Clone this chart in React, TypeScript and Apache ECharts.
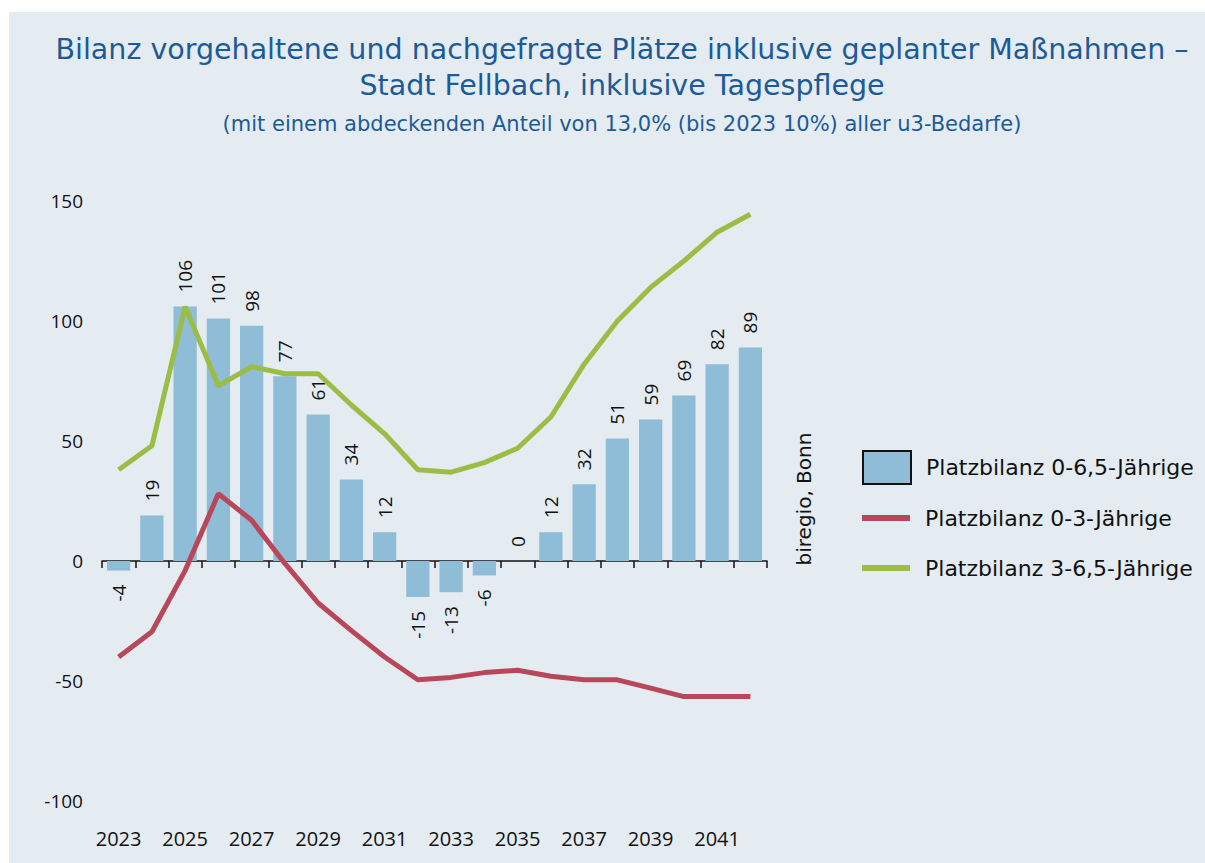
import React, { useEffect, useRef } from "react";
import * as echarts from "echarts";

const years = ["2023","2024","2025","2026","2027","2028","2029","2030","2031","2032","2033","2034","2035","2036","2037","2038","2039","2040","2041","2042"];
const bilanz0to65 = [-4, 19, 106, 101, 98, 77, 61, 34, 12, -15, -13, -6, 0, 12, 32, 51, 59, 69, 82, 89];
const bilanz0to3 = [-40, -29.5, -4, 28, 17, -1, -17.5, -29, -40, -49.5, -48.5, -46.5, -45.5, -48, -49.5, -49.5, -53, -56.5, -56.5, -56.5];
const bilanz3to65 = [38, 48, 106, 73, 81, 78, 78, 65, 53, 38, 37, 41, 47, 60, 82, 100, 114, 125, 137, 144.5];

const titleLine1 = "Bilanz vorgehaltene und nachgefragte Plätze inklusive geplanter Maßnahmen –";
const titleLine2 = "Stadt Fellbach, inklusive Tagespflege";
const subTitle = "(mit einem abdeckenden Anteil von 13,0% (bis 2023 10%) aller u3-Bedarfe)";
const sourceText = "biregio, Bonn";
const names = ["Platzbilanz 0-6,5-Jährige", "Platzbilanz 0-3-Jährige", "Platzbilanz 3-6,5-Jährige"];

const FONT = "Open Sans";
const WIDE = "DejaVu Sans";
const NARROW = "'Liberation Sans Narrow', 'Open Sans'";
const TITLE_COLOR = "#1c5a98";
const BAR_COLOR = "#8fbcd6";
const RED = "#b9475a";
const GREEN = "#9bbd45";

export default function App() {
  const ref = useRef<HTMLDivElement>(null);
  useEffect(() => {
    if (!ref.current) return;
    const chart = echarts.init(ref.current, null, { renderer: "svg" });
    const barData = bilanz0to65.map((v) => ({
      value: v,
      label: v < 0
        ? { position: "bottom", align: "right" }
        : { position: "top", align: "left" },
    }));
    const legendText = { fontFamily: WIDE, fontSize: 22, color: "#111", padding: [0, 0, 0, 10] };
    const legendBase = {
      orient: "vertical",
      left: 853,
      padding: 0,
      itemWidth: 48,
      itemHeight: 33,
      textStyle: legendText,
    };
    chart.setOption({
      animation: false,
      backgroundColor: "#e4ecf2",
      textStyle: { fontFamily: FONT },
      title: [
        {
          text: titleLine1, left: 613, top: 23, textAlign: "center", padding: 0,
          textStyle: { fontFamily: WIDE, fontSize: 28.5, fontWeight: "normal", color: TITLE_COLOR },
        },
        {
          text: titleLine2, left: 613, top: 59, textAlign: "center", padding: 0,
          textStyle: { fontFamily: WIDE, fontSize: 28.5, fontWeight: "normal", color: TITLE_COLOR },
        },
        {
          text: subTitle, left: 613, top: 101, textAlign: "center", padding: 0,
          textStyle: { fontFamily: WIDE, fontSize: 21, fontWeight: "normal", color: TITLE_COLOR },
        },
      ],
      grid: { left: 93, right: 438, top: 189, bottom: 62, containLabel: false, outerBoundsMode: "none" },
      legend: [
        {
          ...legendBase,
          top: 438,
          data: [{ name: names[0], icon: "rect", itemStyle: { color: BAR_COLOR, borderColor: "#111", borderWidth: 2 } }],
        },
        {
          ...legendBase,
          top: 495,
          data: [{ name: names[1], icon: "path://M0,0H48V6H0Z", itemStyle: { color: RED } }],
        },
        {
          ...legendBase,
          top: 545,
          data: [{ name: names[2], icon: "path://M0,0H48V6H0Z", itemStyle: { color: GREEN } }],
        },
      ],
      graphic: [
        {
          type: "text",
          x: 795,
          y: 487,
          rotation: Math.PI / 2,
          style: {
            text: sourceText,
            fontFamily: WIDE,
            fontSize: 20,
            fill: "#111",
            align: "center",
            verticalAlign: "middle",
          },
        },
      ],
      xAxis: {
        type: "category",
        data: years,
        axisLine: { onZero: true, lineStyle: { color: "#111", width: 1.5 } },
        axisTick: { show: true, interval: 0, alignWithLabel: false, length: 7, lineStyle: { color: "#111", width: 1.5 } },
        axisLabel: { interval: 1, margin: 27, fontFamily: NARROW, fontSize: 20, color: "#111" },
        splitLine: { show: false },
      },
      yAxis: {
        type: "value",
        min: -100,
        max: 150,
        interval: 50,
        axisLine: { show: false },
        axisTick: { show: false },
        splitLine: { show: false },
        axisLabel: { margin: 19, fontFamily: FONT, fontSize: 19, color: "#111" },
      },
      series: [
        {
          name: names[0],
          type: "bar",
          data: barData,
          barWidth: "70%",
          itemStyle: { color: BAR_COLOR },
          label: {
            show: true,
            rotate: 90,
            distance: 14,
            verticalAlign: "middle",
            fontFamily: FONT,
            fontSize: 19,
            color: "#111",
          },
          z: 1,
        },
        {
          name: names[1],
          type: "line",
          data: bilanz0to3,
          symbol: "none",
          lineStyle: { color: RED, width: 5 },
          itemStyle: { color: RED },
          z: 3,
        },
        {
          name: names[2],
          type: "line",
          data: bilanz3to65,
          symbol: "none",
          lineStyle: { color: GREEN, width: 5 },
          itemStyle: { color: GREEN },
          z: 3,
        },
      ],
    });
    return () => chart.dispose();
  }, []);
  return (
    <div
      ref={ref}
      style={{ position: "absolute", left: 9, top: 12, width: 1196, height: 851 }}
    />
  );
}
